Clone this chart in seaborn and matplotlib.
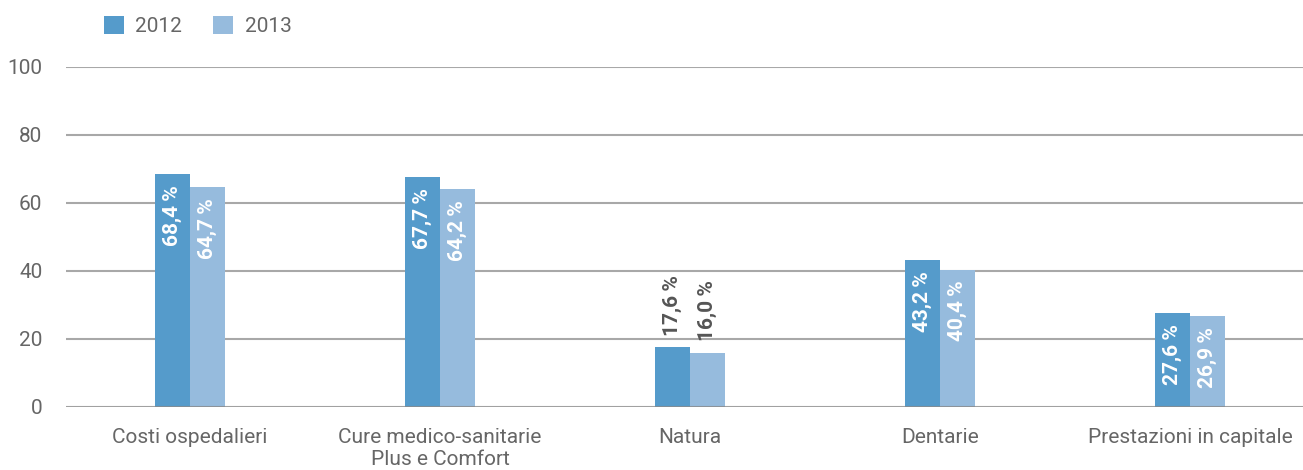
import matplotlib
matplotlib.use("Agg")
import matplotlib.pyplot as plt
import seaborn as sns
import pandas as pd
from matplotlib.patches import Patch

categories = ["Costi ospedalieri", "Cure medico-sanitarie\nPlus e Comfort", "Natura", "Dentarie", "Prestazioni in capitale"]
years = ["2012", "2013"]
values_2012 = [68.4, 67.7, 17.6, 43.2, 27.6]
values_2013 = [64.7, 64.2, 16.0, 40.4, 26.9]
y_ticks = [0, 20, 40, 60, 80, 100]

colors = {"2012": "#559bcb", "2013": "#96bbdd"}

df = pd.DataFrame({
    "Categoria": categories * 2,
    "Anno": [years[0]] * len(categories) + [years[1]] * len(categories),
    "Valore": values_2012 + values_2013,
})

sns.set_theme(style="white")
plt.rcParams["font.family"] = ["Roboto", "DejaVu Sans"]

fig = plt.figure(figsize=(13.03, 4.70), dpi=100)
ax = fig.add_axes([66 / 1303, 1 - 407 / 470, 1 - 66 / 1303, (407 - 67) / 470])

sns.barplot(data=df, x="Categoria", y="Valore", hue="Anno", order=categories,
            hue_order=years, palette=colors, width=0.28, gap=0, saturation=1,
            linewidth=0, edgecolor="none", ax=ax, legend=False, zorder=2)

ax.set_ylim(0, 100)
ax.set_xlim(-0.496, 4.452)
ax.set_yticks(y_ticks)
ax.set_yticklabels([str(t) for t in y_ticks])
for t in y_ticks[1:]:
    ax.axhline(t, color="#a8a8a8", lw=1.5, zorder=1)
ax.axhline(0, color="#8a8a8a", lw=1.5, zorder=3, alpha=0.8)

for s in ax.spines.values():
    s.set_visible(False)
ax.tick_params(axis="both", length=0, labelsize=15, labelcolor="#666666")
ax.tick_params(axis="y", pad=17)
ax.tick_params(axis="x", pad=15)
ax.set_xlabel("")
ax.set_ylabel("")
ax.grid(False)

for cont in ax.containers:
    for bar in cont:
        h = bar.get_height()
        cx = bar.get_x() + bar.get_width() / 2
        label = f"{h:.1f}".replace(".", ",") + "\u2009%"
        if h < 25:
            ax.annotate(label, xy=(cx, h), xytext=(0, 8), textcoords="offset points",
                        rotation=90, ha="center", va="bottom", fontsize=15,
                        fontweight="bold", color="#555555", zorder=4)
        else:
            ax.annotate(label, xy=(cx, h), xytext=(0, -8), textcoords="offset points",
                        rotation=90, ha="center", va="top", fontsize=15,
                        fontweight="bold", color="white", zorder=4)

handles = [Patch(facecolor=colors[y], edgecolor="none", label=y) for y in years]
leg = fig.legend(handles=handles, loc="center left", bbox_to_anchor=(104 / 1303, 1 - 26 / 470),
                 ncol=2, frameon=False, fontsize=15, handlelength=0.95, handleheight=0.95,
                 handletextpad=0.55, columnspacing=1.5, borderaxespad=0, borderpad=0)
for t in leg.get_texts():
    t.set_color("#666666")

fig.savefig("out.png", dpi=100)
